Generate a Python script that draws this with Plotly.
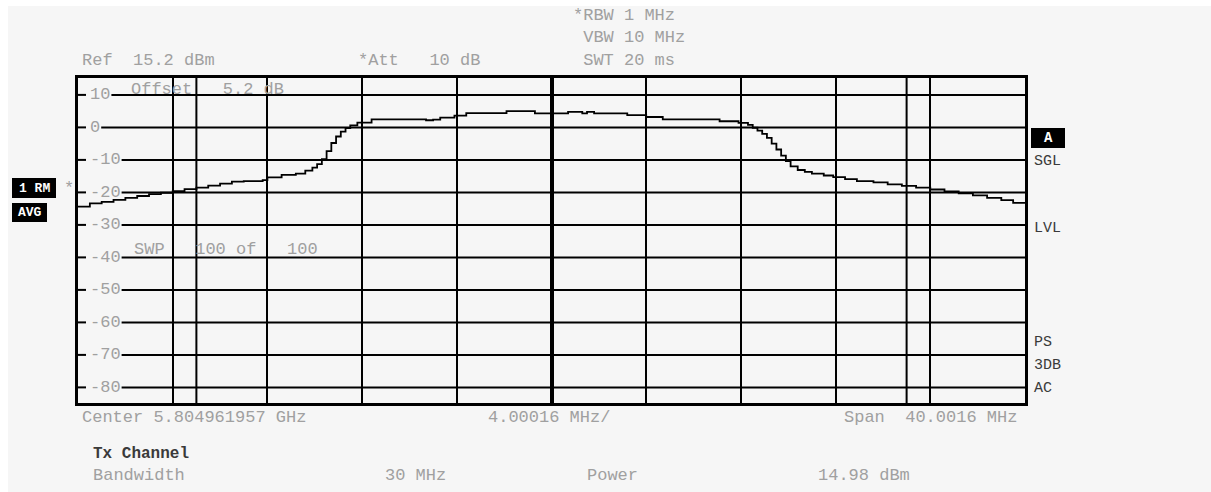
import plotly.graph_objects as go

# ---------------- data ----------------
center_ghz = 5.804961957
span_mhz = 40.0016
ref_dbm = 15.2
channel_bw_mhz = 30

freq_offset_mhz = [-20.0, -19.5, -19.0, -18.5, -18.0, -17.5, -17.0, -16.5, -16.0, -15.5,
                   -15.0, -14.5, -14.0, -13.5, -13.0, -12.2, -12.0, -11.4, -10.8, -10.4,
                   -10.1, -9.9, -9.7, -9.5, -9.3, -9.1, -8.9, -8.7, -8.5, -8.2,
                   -7.6, -5.3, -5.0, -4.7, -4.1, -3.6, -1.9, -0.7, 0.7, 1.3,
                   1.5, 1.8, 3.2, 4.0, 4.7, 7.1, 7.9, 8.3, 8.5, 8.7,
                   8.9, 9.1, 9.3, 9.5, 9.7, 9.9, 10.1, 10.4, 10.7, 11.0,
                   11.5, 11.9, 12.4, 12.9, 13.6, 14.2, 14.8, 15.4, 16.0, 16.6,
                   17.2, 17.8, 18.4, 19.0, 19.5, 20.0]
level_dbm = [-24.4, -23.4, -22.9, -22.3, -21.7, -21.1, -20.5, -20.1, -19.6, -19.0,
             -18.5, -17.9, -17.3, -16.7, -16.5, -16.2, -15.4, -14.6, -14.2, -13.3,
             -12.4, -11.3, -9.8, -7.3, -4.8, -2.8, -1.3, -0.2, 0.6, 1.5,
             2.5, 2.2, 2.4, 3.0, 3.6, 4.4, 5.0, 4.3, 4.8, 4.3,
             4.8, 4.3, 3.8, 3.2, 2.5, 1.9, 1.4, 0.8, -0.1, -1.0,
             -2.0, -3.2, -5.0, -6.8, -8.7, -10.4, -12.0, -13.1, -13.7, -14.2,
             -14.8, -15.3, -15.9, -16.5, -16.9, -17.5, -18.0, -18.5, -19.1, -19.7,
             -20.3, -20.9, -21.7, -22.4, -23.2, -23.4]

y_tick_values = [10, 0, -10, -20, -30, -40, -50, -60, -70, -80]
y_tick_labels = ["10", "0", "-10", "-20", "-30", "-40", "-50", "-60", "-70", "-80"]

# ---------------- layout constants ----------------
W, H = 1211, 492
L, R, T, B = 78, 186, 78, 89
PW, PH = W - L - R, H - T - B
BG = "#f6f6f6"
GRAY = "#a0a0a0"
DARK = "#3a3a3a"
MONO = "Liberation Mono"


def fx(x):
    return (x - L) / PW


def fy(y):
    return (H - B - y) / PH


def nb(s):
    return s.replace(" ", "\u00a0")


fig = go.Figure()
fig.add_trace(go.Scatter(x=freq_offset_mhz, y=level_dbm, mode="lines",
                         line=dict(color="black", width=1.8, shape="hv"),
                         hoverinfo="skip", showlegend=False))

annotations = []
shapes = []


def text(s, x, y, color=GRAY, size=17, bold=False, anchor="left"):
    annotations.append(dict(xref="paper", yref="paper", x=fx(x), y=fy(y),
                            xanchor=anchor, yanchor="middle", text=nb(s), showarrow=False,
                            font=dict(family=MONO, size=size, color=color,
                                      weight="bold" if bold else "normal")))


def box(x0, y0, x1, y1):
    shapes.append(dict(type="rect", xref="paper", yref="paper", x0=fx(x0), x1=fx(x1),
                       y0=fy(y1), y1=fy(y0), fillcolor="black", line=dict(width=0),
                       layer="above"))


# white border strips
shapes.append(dict(type="rect", xref="paper", yref="paper", x0=fx(-5), x1=fx(8),
                   y0=fy(H + 5), y1=fy(-5), fillcolor="white", line=dict(width=0), layer="below"))
shapes.append(dict(type="rect", xref="paper", yref="paper", x0=fx(-5), x1=fx(W + 5),
                   y0=fy(6), y1=fy(-5), fillcolor="white", line=dict(width=0), layer="below"))

# channel bandwidth lines
for xc in (-channel_bw_mhz / 2, channel_bw_mhz / 2):
    shapes.append(dict(type="line", xref="x", yref="paper", x0=xc, x1=xc, y0=0, y1=1,
                       line=dict(color="black", width=2), layer="below"))

# horizontal grid lines with a gap for the level labels
for v, lab in zip(y_tick_values, y_tick_labels):
    gap_end = 88 + 10.2 * len(lab) + 3
    shapes.append(dict(type="line", xref="paper", yref="y", x0=0, x1=fx(86), y0=v, y1=v,
                       line=dict(color="black", width=2), layer="below"))
    shapes.append(dict(type="line", xref="paper", yref="y", x0=fx(gap_end), x1=1, y0=v, y1=v,
                       line=dict(color="black", width=2), layer="below"))
    annotations.append(dict(xref="paper", yref="y", x=fx(88), y=v, xanchor="left",
                            yanchor="middle", text=lab, showarrow=False,
                            font=dict(family=MONO, size=17, color=GRAY)))

# header texts
text("Ref  15.2 dBm", 80, 60)
text("*Att   10 dB", 356, 60)
text("*RBW 1 MHz", 571, 15)
text(" VBW 10 MHz", 571, 37)
text(" SWT 20 ms", 571, 60)
text("Offset   5.2 dB", 129, 89)
text("SWP   100 of   100", 132, 250)

# left boxes
box(12, 178, 56, 198)
text("1 RM", 34, 188, color="white", size=13, bold=True, anchor="center")
box(12, 203, 47, 222)
text("AVG", 29.5, 212.5, color="white", size=13, bold=True, anchor="center")
text("*", 62, 188)

# right labels
box(1031, 128, 1065, 148)
text("A", 1048, 138, color="white", size=14, bold=True, anchor="center")
for s, yy in [("SGL", 161), ("LVL", 228), ("PS", 342), ("3DB", 365), ("AC", 388)]:
    text(s, 1032, yy, color=DARK, size=15)

# bottom texts
text(f"Center {center_ghz} GHz", 80, 417)
text(f"{span_mhz / 10:.5f} MHz/", 486, 417)
text(f"Span  {span_mhz} MHz", 842, 417)
text("Tx Channel", 91, 454, color=DARK, size=16, bold=True)
text("Bandwidth", 91, 475)
text(f"{channel_bw_mhz} MHz", 383, 475)
text("Power", 585, 475)
text("14.98 dBm", 816, 475)

fig.update_layout(
    width=W, height=H, margin=dict(l=L, r=R, t=T, b=B, pad=0),
    paper_bgcolor=BG, plot_bgcolor=BG,
    showlegend=False,
    annotations=annotations, shapes=shapes,
    xaxis=dict(range=[-span_mhz / 2, span_mhz / 2], tick0=-span_mhz / 2, dtick=span_mhz / 10,
               showticklabels=False, ticks="", showgrid=True, gridcolor="black", gridwidth=2,
               zeroline=True, zerolinecolor="black", zerolinewidth=4,
               showline=True, mirror=True, linecolor="black", linewidth=3, fixedrange=True),
    yaxis=dict(range=[ref_dbm - 100, ref_dbm], showticklabels=False, ticks="",
               showgrid=False, zeroline=False,
               showline=True, mirror=True, linecolor="black", linewidth=3, fixedrange=True),
)

fig.write_html("out.html", config={"displayModeBar": False})
